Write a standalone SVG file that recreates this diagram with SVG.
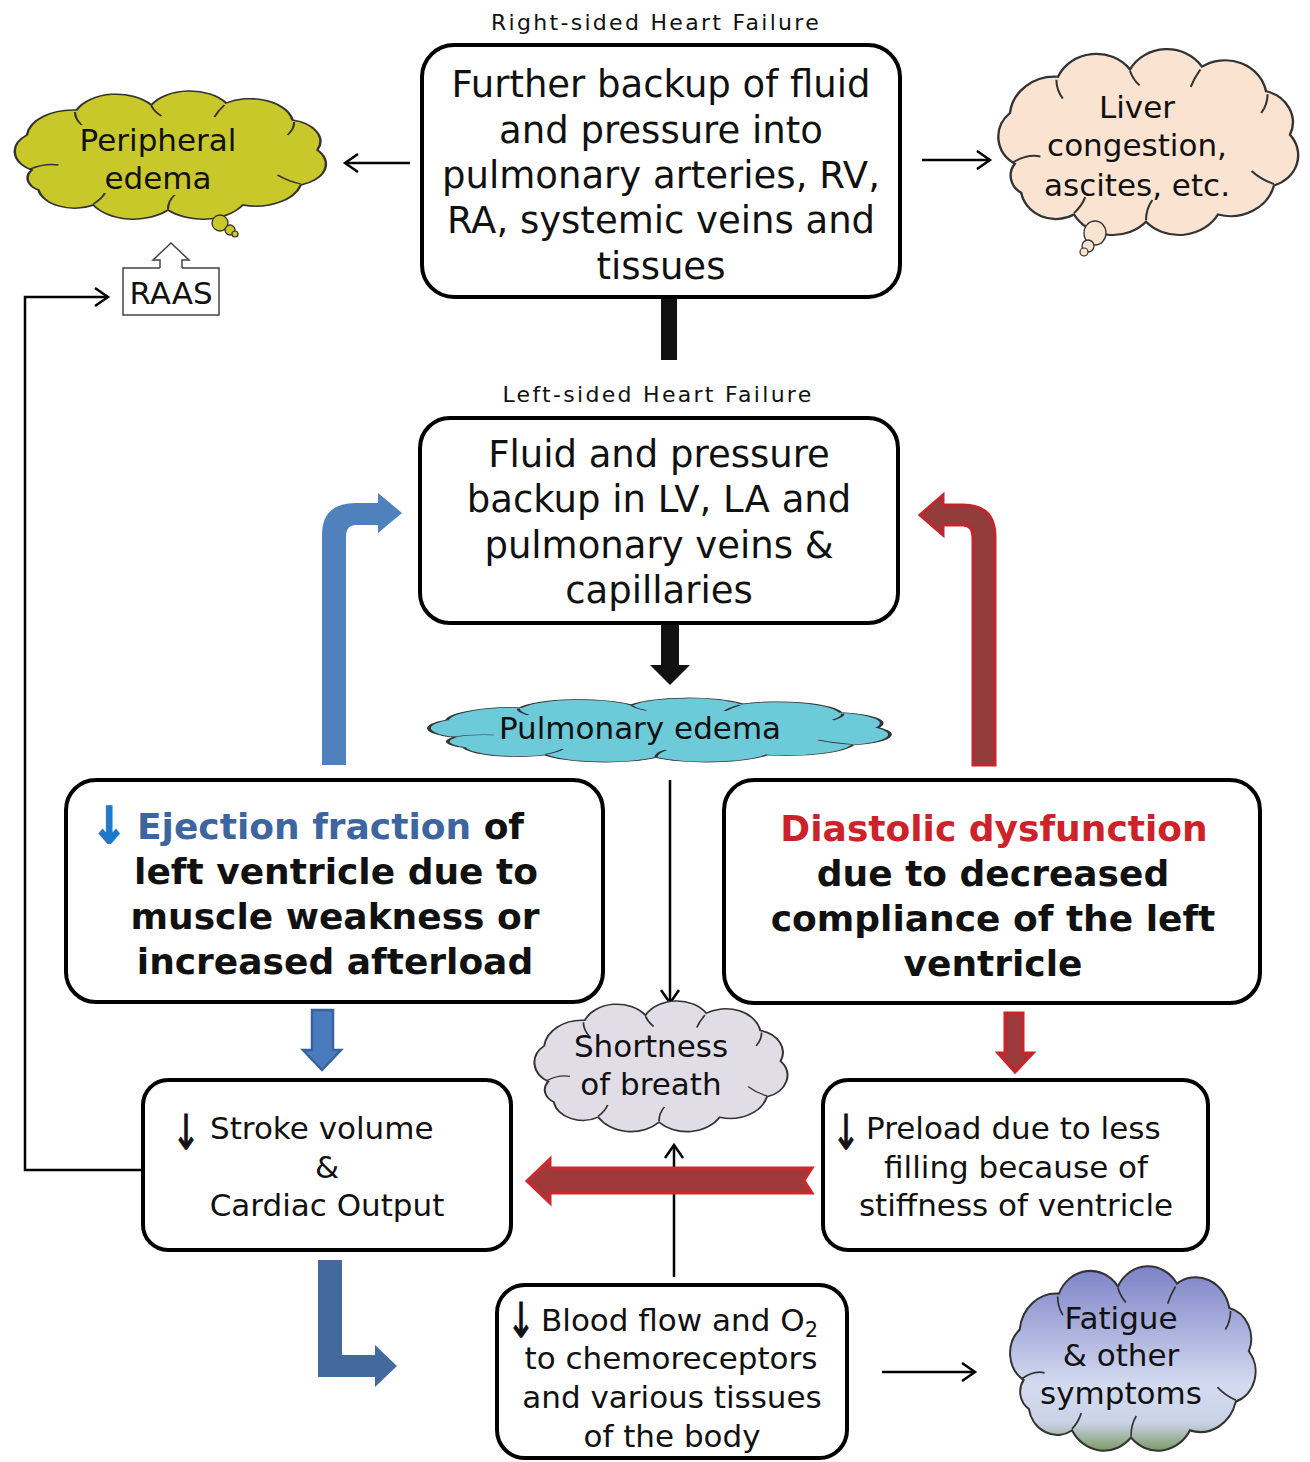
<svg xmlns="http://www.w3.org/2000/svg" width="1310" height="1462" viewBox="0 0 1310 1462">
<style>
text{font-family:"DejaVu Sans",Verdana,sans-serif;fill:#111}
.big{font-size:37px;text-anchor:middle}
.bold{font-size:36px;font-weight:bold;text-anchor:middle}
.med{font-size:31px;text-anchor:middle}
.ttl{font-size:22px;letter-spacing:2.3px;text-anchor:middle}
.dn{font-size:31px;text-anchor:middle;stroke:#111;stroke-width:0.6}
.box{fill:#fff;stroke:#000;stroke-width:4}
.cl{stroke:#333;stroke-width:1.5;vector-effect:non-scaling-stroke}
.cr{fill:none;stroke:#333;stroke-width:1.3;vector-effect:non-scaling-stroke}
.ln{fill:none;stroke:#000;stroke-width:2.5}
</style>
<defs>
<marker id="ah" markerUnits="userSpaceOnUse" markerWidth="18" markerHeight="22" viewBox="0 0 18 22" refX="15" refY="11" orient="auto">
<path d="M2,2 L15,11 L2,20" fill="none" stroke="#000" stroke-width="2.5"/>
</marker>
<path id="cloud" d="M18,75 A22,22 0 0,1 15,40 A28,28 0 0,1 45,15 A26,26 0 0,1 90,10 A26,26 0 0,1 135,8 A26,26 0 0,1 175,25 A22,22 0 0,1 190,55 A22,22 0 0,1 180,90 A28,28 0 0,1 145,110 A28,28 0 0,1 100,115 A28,28 0 0,1 55,110 A22,22 0 0,1 22,95 A14,14 0 0,1 18,75 Z"/>
<path id="crease" d="M17,74 Q26,68 34,70 M44,17 Q44,24 48,30 M90,11 Q92,17 96,21 M134,10 Q130,16 128,22 M176,27 Q176,34 172,40 M180,89 Q172,86 166,80 M100,114 Q100,106 104,100 M55,109 Q60,104 62,98"/>
<linearGradient id="fat" x1="0" y1="0" x2="0" y2="1">
<stop offset="0" stop-color="#7c82c6"/>
<stop offset="0.65" stop-color="#d4dbf0"/>
<stop offset="0.85" stop-color="#c9d2e6"/>
<stop offset="1" stop-color="#7b9a64"/>
</linearGradient>
</defs>

<g id="titles">
<text class="ttl" x="656" y="30">Right-sided Heart Failure</text>
<text class="ttl" x="658" y="402">Left-sided Heart Failure</text>
</g>

<g id="connectors">
<line class="ln" x1="410" y1="163" x2="345" y2="163" marker-end="url(#ah)"/>
<line class="ln" x1="922" y1="160" x2="990" y2="160" marker-end="url(#ah)"/>
<polyline class="ln" points="143,1170 25,1170 25,297 108,297" marker-end="url(#ah)"/>
<line class="ln" x1="670" y1="780" x2="670" y2="1003" marker-end="url(#ah)"/>
<line class="ln" x1="674" y1="1277" x2="674" y2="1145" marker-end="url(#ah)"/>
<line class="ln" x1="882" y1="1372" x2="975" y2="1372" marker-end="url(#ah)"/>
<rect x="661" y="297" width="16" height="63" fill="#111"/>
<path d="M661,623 L679,623 L679,665 L690,665 L670,685 L650,665 L661,665 Z" fill="#111"/>
<path d="M322,765 L322,535 Q322,503 356,503 L378,503 L378,493 L402,513 L378,533 L378,525 L356,525 Q346,525 346,537 L346,765 Z" fill="#4f81bd"/>
<path d="M995,765 L995,537 Q995,505 963,505 L943,505 L943,495 L920,515 L943,535 L943,525 L963,525 Q973,525 973,537 L973,765 Z" fill="#923c3c" stroke="#c0262c" stroke-width="3"/>
<path d="M312,1010 L333,1010 L333,1050 L341,1050 L322,1070 L303,1050 L312,1050 Z" fill="#4a7cbd" stroke="#36639e" stroke-width="2.5"/>
<path d="M1005,1013 L1023,1013 L1023,1053 L1033,1053 L1015,1072 L998,1053 L1005,1053 Z" fill="#9a3a3a" stroke="#cc2229" stroke-width="3"/>
<path d="M812,1168 L550,1168 L550,1159 L527,1181 L550,1203 L550,1193 L812,1193 L804,1180.5 Z" fill="#a03a3a" stroke="#d0262c" stroke-width="3"/>
<path d="M318,1260 L342,1260 L342,1355 L375,1355 L375,1345 L397,1366 L375,1387 L375,1377 L318,1377 Z" fill="#44699c"/>
</g>

<g id="n-peripheral">
<use href="#cloud" class="cl" fill="#c8c82a" transform="translate(2,95) scale(1.66,1)"/>
<use href="#crease" class="cr" transform="translate(2,95) scale(1.66,1)"/>
<circle cx="220" cy="223" r="8" fill="#c8c82a" stroke="#333" stroke-width="1.3"/>
<circle cx="230" cy="230" r="5" fill="#c8c82a" stroke="#333" stroke-width="1.3"/>
<circle cx="235" cy="234" r="3" fill="#c8c82a" stroke="#333" stroke-width="1.2"/>
<text class="med" x="158" y="151">Peripheral</text>
<text class="med" x="158" y="189">edema</text>
</g>

<g id="n-liver">
<use href="#cloud" class="cl" fill="#fbe3d1" transform="translate(986,55) scale(1.6,1.45)"/>
<use href="#crease" class="cr" transform="translate(986,55) scale(1.6,1.45)"/>
<ellipse cx="1095" cy="233" rx="11" ry="12" fill="#fbe3d1" stroke="#333" stroke-width="1.3"/>
<circle cx="1088" cy="246" r="6" fill="#fbe3d1" stroke="#333" stroke-width="1.3"/>
<circle cx="1084" cy="252" r="4" fill="#fbe3d1" stroke="#333" stroke-width="1.2"/>
<text class="med" x="1137" y="118">Liver</text>
<text class="med" x="1137" y="156">congestion,</text>
<text class="med" x="1137" y="196">ascites, etc.</text>
</g>

<g id="n-raas">
<path d="M160,268 L123,268 L123,315 L219,315 L219,268 L182,268" fill="#fff" stroke="#444" stroke-width="1.5"/>
<path d="M160,268 L160,260 L153,260 L171,243 L189,260 L182,260 L182,268" fill="#fff" stroke="#444" stroke-width="1.5"/>
<text class="med" x="171" y="304">RAAS</text>
</g>

<g id="n-right">
<rect class="box" x="422" y="45" width="478" height="252" rx="32"/>
<text class="big" x="661" y="97">Further backup of fluid</text>
<text class="big" x="661" y="143">and pressure into</text>
<text class="big" x="661" y="188">pulmonary arteries, RV,</text>
<text class="big" x="661" y="233">RA, systemic veins and</text>
<text class="big" x="661" y="279">tissues</text>
</g>

<g id="n-left">
<rect class="box" x="420" y="418" width="478" height="205" rx="30"/>
<text class="big" x="659" y="467">Fluid and pressure</text>
<text class="big" x="659" y="512">backup in LV, LA and</text>
<text class="big" x="659" y="558">pulmonary veins &amp;</text>
<text class="big" x="659" y="603">capillaries</text>
</g>

<g id="n-pulmonary">
<use href="#cloud" class="cl" fill="#6ccad9" transform="translate(410,700) scale(2.46,0.5)"/>
<use href="#crease" class="cr" transform="translate(410,700) scale(2.46,0.5)"/>
<text class="med" x="640" y="739">Pulmonary edema</text>
</g>

<g id="n-ejection">
<rect class="box" x="66" y="780" width="537" height="222" rx="30"/>
<text transform="translate(109,843) scale(1.2,1.4)" style="font-size:36px;font-weight:bold;fill:#1f78c8;stroke:#1f78c8;stroke-width:1.2;text-anchor:middle">↓</text>
<text x="137" y="839" style="font-size:36px;font-weight:bold"><tspan fill="#3d65a0">Ejection fraction</tspan> of</text>
<text class="bold" x="336" y="884">left ventricle due to</text>
<text class="bold" x="335" y="929">muscle weakness or</text>
<text class="bold" x="335" y="974">increased afterload</text>
</g>

<g id="n-diastolic">
<rect class="box" x="724" y="780" width="536" height="223" rx="30"/>
<text class="bold" x="994" y="841" style="fill:#cc2229">Diastolic dysfunction</text>
<text class="bold" x="993" y="886">due to decreased</text>
<text class="bold" x="993" y="931">compliance of the left</text>
<text class="bold" x="993" y="976">ventricle</text>
</g>

<g id="n-shortness">
<use href="#cloud" class="cl" fill="#e1dde7" transform="translate(524,1005) scale(1.35,1.02)"/>
<use href="#crease" class="cr" transform="translate(524,1005) scale(1.35,1.02)"/>
<text class="med" x="651" y="1057">Shortness</text>
<text class="med" x="651" y="1095">of breath</text>
</g>

<g id="n-stroke">
<rect class="box" x="143" y="1080" width="368" height="170" rx="25"/>
<text class="dn" transform="translate(186,1149) scale(1.1,1.55)">↓</text>
<text x="210" y="1139" style="font-size:31px">Stroke volume</text>
<text class="med" x="327" y="1178">&amp;</text>
<text class="med" x="327" y="1216">Cardiac Output</text>
</g>

<g id="n-preload">
<rect class="box" x="823" y="1080" width="385" height="170" rx="25"/>
<text class="dn" transform="translate(846,1149) scale(1.1,1.55)">↓</text>
<text x="866" y="1139" style="font-size:31px">Preload due to less</text>
<text class="med" x="1016" y="1178">filling because of</text>
<text class="med" x="1016" y="1216">stiffness of ventricle</text>
</g>

<g id="n-blood">
<rect class="box" x="497" y="1285" width="350" height="173" rx="28"/>
<text class="dn" transform="translate(521,1337) scale(1.1,1.55)">↓</text>
<text x="541" y="1331" style="font-size:31px">Blood flow and O<tspan style="font-size:21px" dy="6">2</tspan></text>
<text class="med" x="671" y="1369">to chemoreceptors</text>
<text class="med" x="672" y="1408">and various tissues</text>
<text class="med" x="672" y="1447">of the body</text>
</g>

<g id="n-fatigue">
<use href="#cloud" class="cl" fill="url(#fat)" transform="translate(1000,1272) scale(1.31,1.44)"/>
<use href="#crease" class="cr" transform="translate(1000,1272) scale(1.31,1.44)"/>
<text class="med" x="1121" y="1329">Fatigue</text>
<text class="med" x="1121" y="1366">&amp; other</text>
<text class="med" x="1121" y="1404">symptoms</text>
</g>
</svg>
